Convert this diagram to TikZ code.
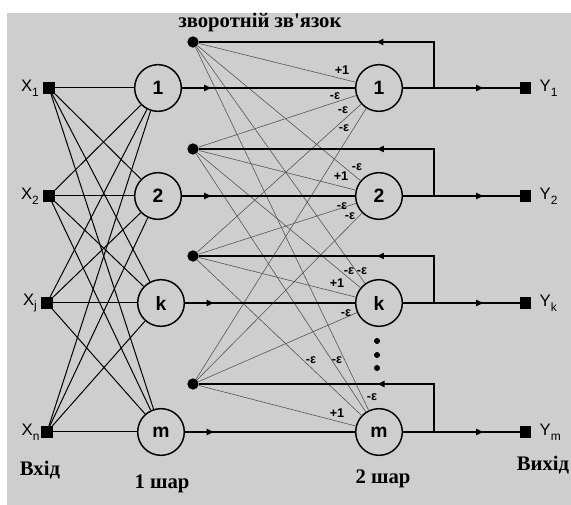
\documentclass[tikz,border=0pt]{standalone}
\usepackage{fontspec}
\setmainfont{Liberation Serif}
\setsansfont{Liberation Sans}
\usetikzlibrary{arrows.meta,positioning,decorations.markings}
\definecolor{panel}{RGB}{206,206,206}
\definecolor{wire}{RGB}{85,85,85}
\newcommand{\lowidx}[1]{\raisebox{-0.55ex}{\fontsize{9}{9}\selectfont #1}}
\tikzset{>={Triangle[length=5.5pt,width=4.5pt]}}
\tikzset{
  neuron/.style={circle,draw,line width=1.1pt,minimum size=35pt,inner sep=0pt,
    font=\sffamily\bfseries\fontsize{14.5}{15}\selectfont},
  port/.style={rectangle,fill=black,minimum size=8.5pt,inner sep=0pt},
  fbdot/.style={circle,fill=black,minimum size=8.5pt,inner sep=0pt},
  ddot/.style={circle,fill=black,minimum size=4.5pt,inner sep=0pt},
  syn/.style={line width=0.75pt},
  fbsyn/.style={wire,line width=0.45pt},
  bus/.style={line width=1.4pt},
  arrowat/.style={postaction={decorate},
    decoration={markings,mark=at position #1 with {\arrow{>}}}},
  wt/.style={font=\sffamily\bfseries\fontsize{9.5}{9.5}\selectfont,inner sep=0pt},
  portlbl/.style={font=\sffamily\fontsize{12.5}{12.5}\selectfont,inner sep=0pt},
  caption/.style={font=\rmfamily\bfseries\fontsize{15.5}{15.5}\selectfont,inner sep=0pt}
}
\begin{document}
\begin{tikzpicture}[x=0.75pt,y=-0.75pt]
    \useasboundingbox (0,0) rectangle (571,505);
    \fill[panel] (7,13) rectangle (571,505);
    % inputs
    \node at (49,88) [port] (x_1) {};
    \node at (49,196) [port] (x_2) {};
    \node at (47,303) [port] (x_j) {};
    \node at (47,432) [port] (x_n) {};
    \node [portlbl,left=3pt of x_1] (lx_1) {X\lowidx{1}};
    \node [portlbl,left=3pt of x_2] (lx_2) {X\lowidx{2}};
    \node [portlbl,left=3pt of x_j] (lx_j) {X\lowidx{j}};
    \node [portlbl,left=1pt of x_n] (lx_n) {X\lowidx{n}};
    % layer 1
    \node at (158,88) [neuron] (h_1) {1};
    \node at (158,196) [neuron] (h_2) {2};
    \node at (161,303) [neuron] (h_k) {k};
    \node at (161,432) [neuron] (h_m) {m};
    % feedback points
    \node at (193,42) [fbdot] (fb_1) {};
    \node at (193,149) [fbdot] (fb_2) {};
    \node at (193,256) [fbdot] (fb_3) {};
    \node at (193,384) [fbdot] (fb_4) {};
    % layer 2
    \node at (379,88) [neuron] (o_1) {1};
    \node at (379,196) [neuron] (o_2) {2};
    \node at (379,303) [neuron] (o_k) {k};
    \node at (379,432) [neuron] (o_m) {m};
    \node at (377,341) [ddot] (el_1) {};
    \node at (377,355) [ddot] (el_2) {};
    \node at (377,368) [ddot] (el_3) {};
    % outputs
    \node at (525.5,88) [port] (y_1) {};
    \node at (525.5,196) [port] (y_2) {};
    \node at (525.5,303) [port] (y_k) {};
    \node at (525.5,432) [port] (y_m) {};
    \node [portlbl,right=6pt of y_1] (ly_1) {Y\lowidx{1}};
    \node [portlbl,right=6pt of y_2] (ly_2) {Y\lowidx{2}};
    \node [portlbl,right=6pt of y_k] (ly_k) {Y\lowidx{k}};
    \node [portlbl,right=6pt of y_m] (ly_m) {Y\lowidx{m}};
    \coordinate (t_1) at (434,88);
    \coordinate (t_2) at (434,196);
    \coordinate (t_3) at (434,303);
    \coordinate (t_4) at (434,432);
    % input connections
    \foreach \i in {1,2,j,n}
      \foreach \h in {1,2,k,m}
        \draw [syn] (x_\i) -- (h_\h);
    % lateral connections
    \foreach \f in {1,2,3,4}
      \foreach \o in {1,2,k,m}
        \draw [fbsyn] (fb_\f) -- (o_\o);
    \draw [bus,arrowat=0.17] (h_1) -- (o_1);
    \draw [bus,arrowat=0.17] (h_2) -- (o_2);
    \draw [bus,arrowat=0.17] (h_k) -- (o_k);
    \draw [bus,arrowat=0.17] (h_m) -- (o_m);
    \draw [bus,arrowat=0.69] (o_1) -- (y_1);
    \draw [bus,arrowat=0.69] (o_2) -- (y_2);
    \draw [bus,arrowat=0.69] (o_k) -- (y_k);
    \draw [bus,arrowat=0.69] (o_m) -- (y_m);
    \draw [bus,arrowat=0.37] (t_1) |- (fb_1);
    \draw [bus,arrowat=0.37] (t_2) |- (fb_2);
    \draw [bus,arrowat=0.37] (t_3) |- (fb_3);
    \draw [bus,arrowat=0.37] (t_4) |- (fb_4);
    % weights
    \foreach \p/\t [count=\c] in {{342,70}/+1, {335,96}/-ε, {343,110}/-ε, {344,128}/-ε,
        {357,167}/-ε, {341,176}/+1, {342,206}/-ε, {350,216}/-ε,
        {349,271}/-ε, {362,271}/-ε, {337,283}/+1, {346,313}/-ε,
        {311,360}/-ε, {337,360}/-ε, {372,397}/-ε, {337,413}/+1}
      \node [wt] (w_\c) at (\p) {\t};
    % captions
    \node at (260,23) [caption] (fb_cap) {зворотній зв\textquotesingle язок};
    \node at (40,470) [caption] (in_cap) {Вхід};
    \node at (162,484) [caption] (l1_cap) {1 шар};
    \node at (383,479) [caption] (l2_cap) {2 шар};
    \node at (543,465) [caption] (out_cap) {Вихід};
\end{tikzpicture}
\end{document}
